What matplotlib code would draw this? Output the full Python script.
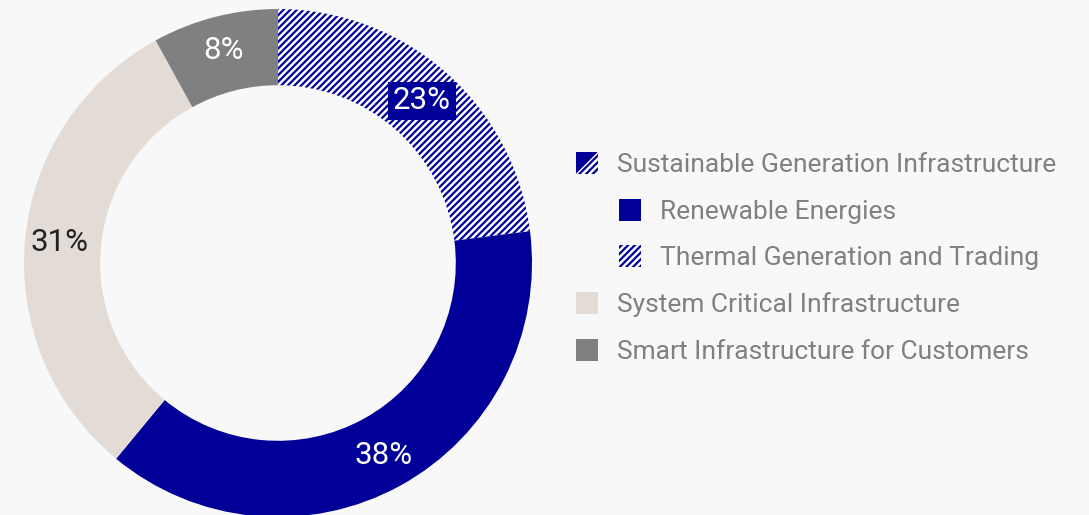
import numpy as np
import matplotlib.pyplot as plt
from matplotlib.patches import Rectangle, Polygon

plt.rcParams['font.family'] = ['Roboto', 'DejaVu Sans']
plt.rcParams['hatch.linewidth'] = 1.6

# data
segments = ["Thermal Generation and Trading", "Renewable Energies",
            "System Critical Infrastructure", "Smart Infrastructure for Customers"]
shares = [23, 38, 31, 8]
pct_labels = ["23%", "38%", "31%", "8%"]

legend_items = [("Sustainable Generation Infrastructure", 0),
                ("Renewable Energies", 1),
                ("Thermal Generation and Trading", 1),
                ("System Critical Infrastructure", 0),
                ("Smart Infrastructure for Customers", 0)]

blue = "#000099"
beige = "#e3dbd5"
grey = "#808080"
bg = "#f8f8f8"
hatch = "/////"

W, H = 1089, 515
fig = plt.figure(figsize=(W / 100, H / 100), dpi=100, facecolor=bg)

# donut axes (center ~ (278, 263) px, radius ~254 px)
cx, cy, r = 278, 263, 254
ax = fig.add_axes([(cx - r) / W, (H - cy - r) / H, 2 * r / W, 2 * r / H])
ax.set_facecolor(bg)

wedges, texts = ax.pie(shares, startangle=90, counterclock=False,
                       colors=["white", blue, beige, grey],
                       wedgeprops=dict(width=0.3, linewidth=0))
wedges[0].set_hatch(hatch)
wedges[0].set_edgecolor(blue)
ax.set_xlim(-1, 1)
ax.set_ylim(-1, 1)
ax.set_aspect("equal")
ax.axis("off")

# percentage labels
start = 90.0
for i, (w, lab) in enumerate(zip(shares, pct_labels)):
    mid = np.deg2rad(start - w * 3.6 / 2)
    start -= w * 3.6
    x, y = 0.865 * np.cos(mid), 0.865 * np.sin(mid)
    if i == 0:
        ax.text(x - 0.005, y - 0.01, lab, ha="center", va="center", color="white",
                fontsize=22.5, bbox=dict(boxstyle="square,pad=0.15", fc=blue, ec="none"))
    elif i == 2:
        ax.text(x, y, lab, ha="center", va="center", color="#222222", fontsize=22.5)
    else:
        ax.text(x, y, lab, ha="center", va="center", color="white", fontsize=22.5)

# custom legend
ys = [163, 210, 256, 303, 350]
sq = 22
for (name, lvl), yp in zip(legend_items, ys):
    x0 = 576 if lvl == 0 else 619
    fx, fy = x0 / W, (H - yp - sq / 2) / H
    fw, fh = sq / W, sq / H
    if name == "Sustainable Generation Infrastructure":
        fig.patches.append(Polygon([(fx, fy + fh), (fx + fw, fy + fh), (fx, fy)],
                                   closed=True, transform=fig.transFigure,
                                   fc=blue, ec="none"))
        fig.patches.append(Polygon([(fx + fw, fy + fh), (fx + fw, fy), (fx, fy)],
                                   closed=True, transform=fig.transFigure,
                                   fc="white", ec=blue, lw=0, hatch=hatch))
    else:
        idx = segments.index(name)
        if idx == 0:
            fig.patches.append(Rectangle((fx, fy), fw, fh, transform=fig.transFigure,
                                         fc="white", ec=blue, lw=0, hatch=hatch))
        else:
            c = [None, blue, beige, grey][idx]
            fig.patches.append(Rectangle((fx, fy), fw, fh, transform=fig.transFigure,
                                         fc=c, ec="none"))
    fig.text((x0 + 41) / W, (H - yp - 2) / H, name, ha="left", va="center",
             color="#808080", fontsize=19)

fig.savefig("out.png", dpi=100, facecolor=bg)
